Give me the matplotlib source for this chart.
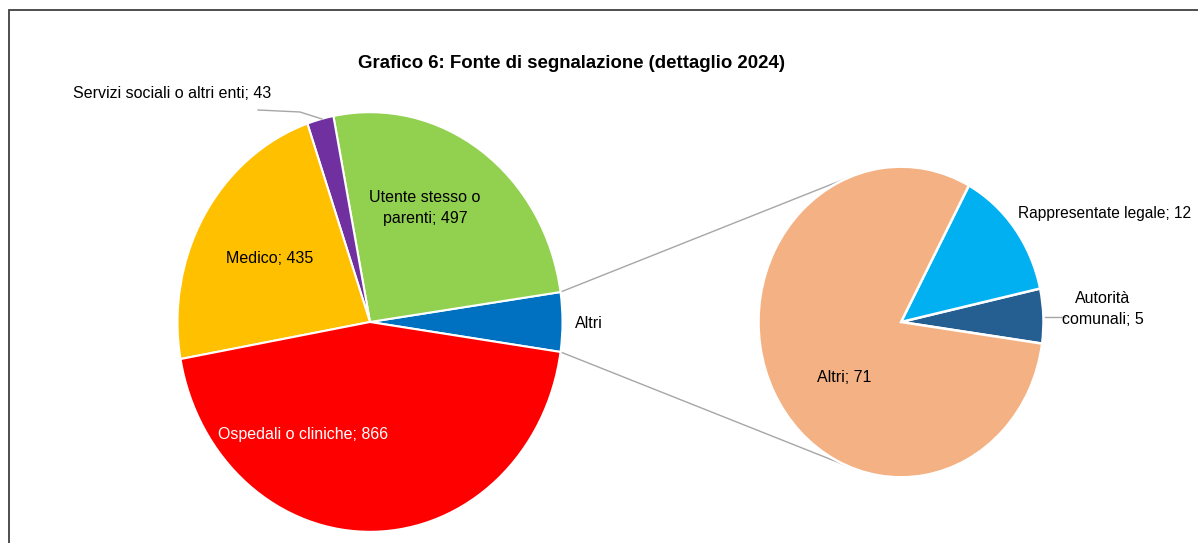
import matplotlib
matplotlib.use("Agg")
import matplotlib.pyplot as plt
from matplotlib.patches import Rectangle
import numpy as np

plt.rcParams['font.family'] = ['Liberation Sans', 'DejaVu Sans']

# ---- data ----
title = "Grafico 6: Fonte di segnalazione (dettaglio 2024)"
main_labels = ["Altri", "Utente stesso o\nparenti", "Servizi sociali o altri enti", "Medico", "Ospedali o cliniche"]
main_values = [88, 497, 43, 435, 866]
main_colors = ["#0070C0", "#92D050", "#7030A0", "#FFC000", "#FF0000"]

sub_labels = ["Autorità\ncomunali", "Rappresentate legale", "Altri"]
sub_values = [5, 12, 71]
sub_colors = ["#255E91", "#00B0F0", "#F4B183"]

W, H = 1198, 543
SY = 1.09  # vertical stretch of the original image

fig = plt.figure(figsize=(W / 100, H / 100), dpi=100)
ax = fig.add_axes([0, 0, 1, 1])

def P(px, py):
    """pixel (from top-left) -> data coords"""
    return px, (H - py) / SY

main_c = P(370, 322)
main_r = 192.5
sub_c = P(901, 322)
sub_r = 142.5

tot = sum(main_values)
start_main = -main_values[0] / tot * 360 / 2
ax.pie(main_values, colors=main_colors, startangle=start_main, counterclock=True,
       center=main_c, radius=main_r, frame=True,
       wedgeprops=dict(edgecolor="white", linewidth=1.5))
ax.pie(sub_values, colors=sub_colors, startangle=-8, counterclock=True,
       center=sub_c, radius=sub_r, frame=True,
       wedgeprops=dict(edgecolor="white", linewidth=1.8))

ax.set_aspect('auto')
ax.set_xlim(0, W)
ax.set_ylim(0, H / SY)
ax.axis('off')

# connector lines between the "Altri" slice and the secondary pie
a = np.deg2rad(main_values[0] / tot * 360 / 2)
b = np.deg2rad(110)
for s in (1, -1):
    x0 = main_c[0] + main_r * np.cos(a)
    y0 = main_c[1] + s * main_r * np.sin(a)
    x1 = sub_c[0] + sub_r * np.cos(b)
    y1 = sub_c[1] + s * sub_r * np.sin(b)
    ax.plot([x0, x1], [y0, y1], color="#A6A6A6", lw=1.0, zorder=0)

fs = 11.5
def label(px, py, txt, ha="center", color="black", size=fs):
    x, y = P(px, py)
    ax.text(x, y, txt, ha=ha, va="center", fontsize=size, color=color, linespacing=1.55)

label(425, 208, f"{main_labels[1]}; {main_values[1]}")
label(73, 93, f"{main_labels[2]}; {main_values[2]}", ha="left")
label(270, 258, f"{main_labels[3]}; {main_values[3]}")
label(303, 434, f"{main_labels[4]}; {main_values[4]}", color="white")
label(575, 323, main_labels[0], ha="left")
label(1018, 213, f"{sub_labels[1]}; {sub_values[1]}", ha="left", size=11.2)
label(1103, 309, f"{sub_labels[0]}; {sub_values[0]}")
label(844, 377, f"{sub_labels[2]}; {sub_values[2]}")

# leader lines
xs, ys = zip(P(258, 110), P(300, 112), P(322, 119))
ax.plot(xs, ys, color="#A6A6A6", lw=1.0)
xs, ys = zip(P(1045, 317), P(1065, 317))
ax.plot(xs, ys, color="#A6A6A6", lw=1.0)

# title
tx, ty = P(571, 63)
ax.text(tx, ty, title, ha="center", va="center", fontsize=13.4, fontweight="bold")

# chart frame
fig.patches.append(Rectangle((8.5 / W, -0.05), 1.2, (H - 9.5) / H + 0.05,
                             transform=fig.transFigure, fill=False,
                             edgecolor="#404040", lw=1.3))

fig.savefig("out.png", dpi=100)
